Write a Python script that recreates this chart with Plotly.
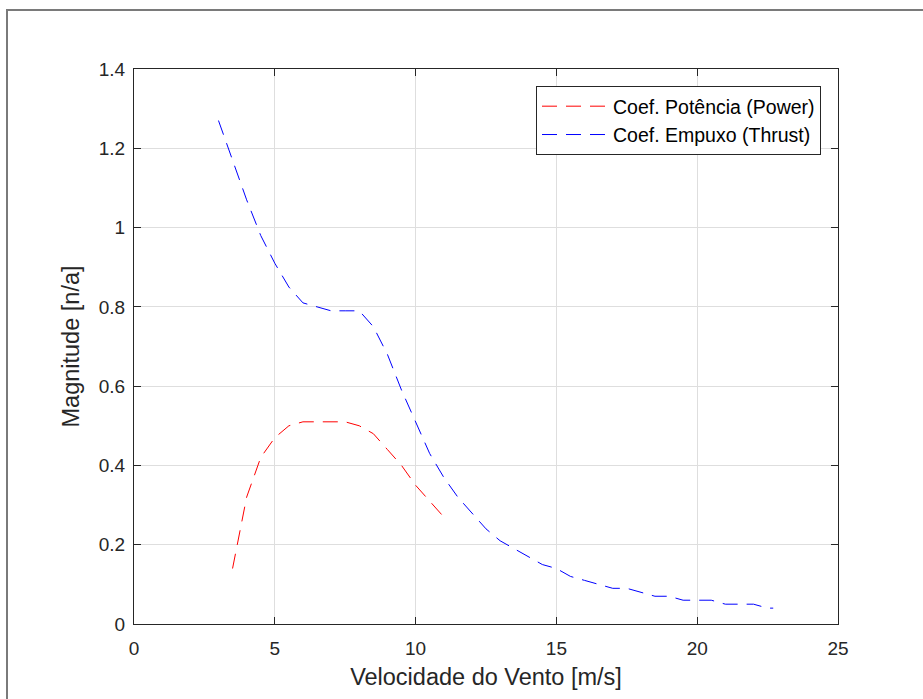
import plotly.graph_objects as go

# Data
power_ws = [3.5, 4, 4.5, 5, 5.5, 6, 6.5, 7, 7.5, 8, 8.5, 9, 9.5, 10, 10.5, 11]
power_cp = [0.14, 0.32, 0.42, 0.47, 0.50, 0.51, 0.51, 0.51, 0.51, 0.50, 0.48, 0.44, 0.40, 0.35, 0.31, 0.27]

thrust_ws = [3, 3.5, 4, 4.5, 5, 5.5, 6, 6.5, 7, 7.5, 8, 8.5, 9, 9.5, 10, 10.5, 11, 11.5, 12,
             12.5, 13, 13.5, 14, 14.5, 15, 15.5, 16, 16.5, 17, 17.5, 18, 18.5, 19, 19.5, 20,
             20.5, 21, 21.5, 22, 22.5, 22.7]
thrust_ct = [1.27, 1.17, 1.07, 0.98, 0.91, 0.85, 0.81, 0.80, 0.79, 0.79, 0.79, 0.75, 0.68, 0.59,
             0.51, 0.43, 0.37, 0.32, 0.28, 0.24, 0.21, 0.19, 0.17, 0.15, 0.14, 0.12, 0.11, 0.10,
             0.09, 0.09, 0.08, 0.07, 0.07, 0.06, 0.06, 0.06, 0.05, 0.05, 0.05, 0.04, 0.04]

names = ["Coef. Potência (Power)", "Coef. Empuxo (Thrust)"]
xticks = [0, 5, 10, 15, 20, 25]
yticks = [0, 0.2, 0.4, 0.6, 0.8, 1.0, 1.2, 1.4]

W, H = 923, 699
ML, MR, MT, MB = 134, 85, 69, 75
PW, PH = W - ML - MR, H - MT - MB

def px2paper_x(px):
    return (px - ML) / PW

def px2paper_y(py):
    return (H - MB - py) / PH

DASH = "15px,9px"
FONT = "Liberation Sans, Arial, Helvetica, sans-serif"
TXT = "#262626"

fig = go.Figure()
fig.add_trace(go.Scatter(x=power_ws, y=power_cp, mode="lines", name=names[0],
                         line=dict(color="#ff0000", width=1, dash=DASH)))
fig.add_trace(go.Scatter(x=thrust_ws, y=thrust_ct, mode="lines", name=names[1],
                         line=dict(color="#0000ff", width=1, dash=DASH)))

axis_common = dict(
    showline=True, linecolor=TXT, linewidth=1, mirror="ticks",
    ticks="inside", ticklen=7, tickcolor=TXT, tickwidth=1,
    showgrid=True, gridcolor="#dedede", gridwidth=1,
    zeroline=False, tickfont=dict(family=FONT, size=19, color=TXT),
)

fig.update_layout(
    width=W, height=H,
    margin=dict(l=ML, r=MR, t=MT, b=MB, autoexpand=False),
    paper_bgcolor="white", plot_bgcolor="white",
    font=dict(family=FONT, color=TXT),
    xaxis=dict(range=[0, 25], tickvals=xticks, ticktext=[str(v) for v in xticks],
               title=dict(text="Velocidade do Vento [m/s]", font=dict(family=FONT, size=23.5, color=TXT),
                          standoff=10),
               ticklabelstandoff=7, **axis_common),
    yaxis=dict(range=[0, 1.4], tickvals=yticks, ticktext=["0", "0.2", "0.4", "0.6", "0.8", "1", "1.2", "1.4"],
               title=dict(text="Magnitude [n/a]", font=dict(family=FONT, size=23.5, color=TXT),
                          standoff=12),
               ticklabelstandoff=4, **axis_common),
    legend=dict(x=px2paper_x(821), y=px2paper_y(86), xanchor="right", yanchor="top",
                bgcolor="white", bordercolor=TXT, borderwidth=1,
                font=dict(family=FONT, size=19.5, color="black"),
                itemwidth=66, tracegroupgap=0),
    showlegend=True,
    shapes=[dict(type="rect", xref="paper", yref="paper",
                 x0=px2paper_x(7), x1=px2paper_x(940), y0=px2paper_y(720), y1=px2paper_y(10),
                 line=dict(color="#7a7a7a", width=2), fillcolor="rgba(0,0,0,0)", layer="below")],
)

fig.write_html("out.html")
